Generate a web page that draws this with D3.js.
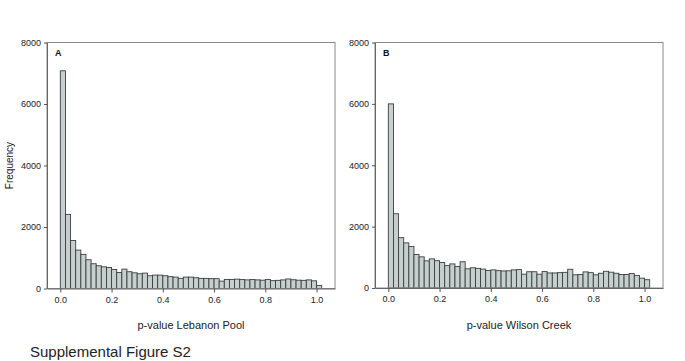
<!DOCTYPE html>
<html>
<head>
<meta charset="utf-8">
<script src="https://cdn.jsdelivr.net/npm/d3@7"></script>
<style>
  body { margin: 0; background: #fff; }
  text { font-family: "Liberation Sans", Arial, sans-serif; }
</style>
</head>
<body>
<div id="chart"></div>
<script>
// Data: histogram counts, bins of width 0.02 starting at 0
const binWidth = 0.02
const countsLebanon = [7080, 2410, 1560, 1250, 1110, 935, 805, 740, 705, 685,
  620, 520, 630, 545, 510, 480, 500, 415, 435, 435,
  415, 385, 370, 330, 370, 370, 350, 330, 330, 320,
  320, 240, 295, 295, 305, 290, 280, 290, 280, 270,
  295, 255, 265, 280, 310, 285, 270, 265, 280, 250, 100]
const countsWilson = [6000, 2420, 1640, 1470, 1350, 1090, 1015, 885, 950, 890,
  830, 730, 785, 700, 855, 625, 660, 640, 615, 570,
  590, 565, 555, 560, 590, 600, 450, 530, 530, 450,
  535, 490, 490, 500, 510, 610, 430, 440, 525, 500,
  430, 480, 545, 515, 480, 440, 440, 470, 410, 320, 270]
const xTicks = [0, 0.2, 0.4, 0.6, 0.8, 1.0]
const yTicks = [0, 2000, 4000, 6000, 8000]
const panelLetters = ['A', 'B']
const xTitles = ['p-value Lebanon Pool', 'p-value Wilson Creek']
const yTitle = 'Frequency'
const figTitle = 'Supplemental Figure S2'

const width = 685, height = 361

const svg = d3.select('#chart').append('svg')
  .attr('width', width)
  .attr('height', height)

const panels = [
  { counts: countsLebanon, left: 47, right: 335, top: 42.5, bottom: 288.5, showYTitle: true },
  { counts: countsWilson, left: 375, right: 663, top: 42.5, bottom: 288, showYTitle: false }
]

panels.forEach((p, i) => {
  const g = svg.append('g')

  // x domain a bit wider than [0,1] like the original sigmaplot frame
  const xScale = d3.scaleLinear()
    .domain([-0.052, 1.072])
    .range([p.left, p.right])
  const yScale = d3.scaleLinear()
    .domain([0, 8000])
    .range([p.bottom, p.top])

  // bars
  g.selectAll('rect.bar')
    .data(p.counts)
    .join('rect')
    .attr('class', 'bar')
    .attr('x', (d, k) => xScale(k * binWidth))
    .attr('width', (d, k) => xScale((k + 1) * binWidth) - xScale(k * binWidth))
    .attr('y', d => yScale(d))
    .attr('height', d => yScale(0) - yScale(d))
    .attr('fill', '#c6cfcd')
    .attr('stroke', '#3a3f3f')
    .attr('stroke-width', 0.9)

  // frame
  g.append('rect')
    .attr('x', p.left)
    .attr('y', p.top)
    .attr('width', p.right - p.left)
    .attr('height', p.bottom - p.top)
    .attr('fill', 'none')
    .attr('stroke', '#8a8a8a')
    .attr('stroke-width', 1)

  // axes
  const xAxis = d3.axisBottom(xScale)
    .tickValues(xTicks)
    .tickFormat(d3.format('.1f'))
    .tickSizeInner(4)
    .tickSizeOuter(0)
    .tickPadding(4)
  const xAxisGroup = g.append('g')
    .attr('transform', `translate(0,${p.bottom})`)
    .call(xAxis)
  const yAxis = d3.axisLeft(yScale)
    .tickValues(yTicks)
    .tickFormat(d3.format('d'))
    .tickSizeInner(3)
    .tickSizeOuter(0)
    .tickPadding(3)
  const yAxisGroup = g.append('g')
    .attr('transform', `translate(${p.left},0)`)
    .call(yAxis)

  ;[xAxisGroup, yAxisGroup].forEach(ax => {
    ax.select('.domain').attr('stroke', '#666')
    ax.selectAll('.tick line').attr('stroke', '#555')
    ax.selectAll('.tick text')
      .attr('fill', '#222')
      .style('font-size', '9px')
      .style('font-family', '"Liberation Sans", Arial, sans-serif')
  })

  // panel letter
  g.append('text')
    .attr('x', p.left + 8)
    .attr('y', p.top + 13)
    .attr('fill', '#111')
    .style('font-size', '9px')
    .style('font-weight', 'bold')
    .text(panelLetters[i])

  // x title
  g.append('text')
    .attr('x', (p.left + p.right) / 2)
    .attr('y', 329)
    .attr('text-anchor', 'middle')
    .attr('fill', '#222')
    .style('font-size', '11px')
    .text(xTitles[i])

  if (p.showYTitle) {
    g.append('text')
      .attr('transform', `translate(13,${(p.top + p.bottom) / 2}) rotate(-90)`)
      .attr('text-anchor', 'middle')
      .attr('fill', '#222')
      .style('font-size', '10px')
      .text(yTitle)
  }
})

svg.append('text')
  .attr('x', 30)
  .attr('y', 357)
  .attr('fill', '#222')
  .style('font-size', '15px')
  .text(figTitle)
</script>
</body>
</html>
